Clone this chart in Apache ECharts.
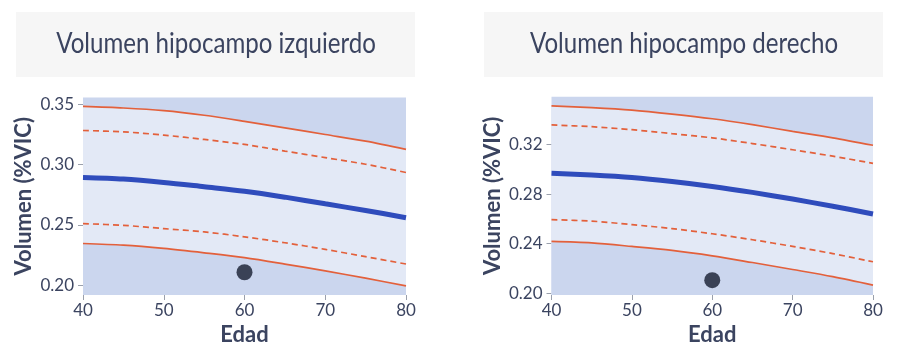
<!DOCTYPE html>
<html>
<head>
<meta charset="utf-8">
<script src="https://cdn.jsdelivr.net/npm/echarts@6/dist/echarts.min.js"></script>
<style>
html,body{margin:0;padding:0;background:#fff;}
#c{width:902px;height:351px;}
</style>
</head>
<body>
<div id="c"></div>
<script>
// Data
const edad = [40, 45, 50, 55, 60, 65, 70, 75, 80];
const xTicks = [40, 50, 60, 70, 80];

// Left: volumen hipocampo izquierdo
const izqUpperSolid  = [0.3480, 0.3467, 0.3445, 0.3407, 0.3357, 0.3303, 0.3248, 0.3193, 0.3125];
const izqUpperDashed = [0.3281, 0.3270, 0.3243, 0.3207, 0.3166, 0.3111, 0.3057, 0.3002, 0.2934];
const izqMean        = [0.2893, 0.2880, 0.2852, 0.2816, 0.2779, 0.2730, 0.2675, 0.2620, 0.2560];
const izqLowerDashed = [0.2511, 0.2497, 0.2470, 0.2443, 0.2402, 0.2353, 0.2298, 0.2238, 0.2177];
const izqLowerSolid  = [0.2347, 0.2333, 0.2306, 0.2270, 0.2230, 0.2177, 0.2120, 0.2060, 0.1997];
const izqPoint = [60, 0.2109];
const izqYTicks = [0.20, 0.25, 0.30, 0.35];
const izqYRange = [0.1921, 0.3554];

// Right: volumen hipocampo derecho
const derUpperSolid  = [0.3512, 0.3498, 0.3478, 0.3446, 0.3408, 0.3360, 0.3306, 0.3254, 0.3194];
const derUpperDashed = [0.3358, 0.3344, 0.3320, 0.3288, 0.3254, 0.3208, 0.3158, 0.3106, 0.3048];
const derMean        = [0.2968, 0.2954, 0.2934, 0.2902, 0.2862, 0.2814, 0.2760, 0.2702, 0.2640];
const derLowerDashed = [0.2594, 0.2582, 0.2554, 0.2522, 0.2480, 0.2432, 0.2378, 0.2320, 0.2254];
const derLowerSolid  = [0.2418, 0.2406, 0.2378, 0.2346, 0.2302, 0.2248, 0.2192, 0.2134, 0.2066];
const derPoint = [60, 0.2106];
const derYTicks = [0.20, 0.24, 0.28, 0.32];
const derYRange = [0.1986, 0.3586];

const titles = ['Volumen hipocampo izquierdo', 'Volumen hipocampo derecho'];

// Styles
const TXT = '#3b4460';
const RED = '#e3603b';
const BLUE = '#2f4cbc';
const DARK = '#cbd6ee';
const LIGHT = '#e3e9f6';
const PT = '#3a4256';
const FONT = 'Lato';

const zip = (ys) => edad.map((x, i) => [x, ys[i]]);

function panelSeries(idx, us, ud, m, ld, ls, pt) {
  const base = { type: 'line', xAxisIndex: idx, yAxisIndex: idx, showSymbol: false, smooth: 0.3, silent: true };
  return [
    Object.assign({}, base, { data: zip(us), z: 3, lineStyle: { color: RED, width: 1.7 }, areaStyle: { color: LIGHT, opacity: 1, origin: 'start' } }),
    Object.assign({}, base, { data: zip(ls), z: 4, lineStyle: { color: RED, width: 1.7 }, areaStyle: { color: DARK, opacity: 1, origin: 'start' } }),
    Object.assign({}, base, { data: zip(ud), z: 5, lineStyle: { color: RED, width: 1.7, type: [6, 4] } }),
    Object.assign({}, base, { data: zip(ld), z: 5, lineStyle: { color: RED, width: 1.7, type: [6, 4] } }),
    Object.assign({}, base, { data: zip(m), z: 6, lineStyle: { color: BLUE, width: 5 } }),
    { type: 'scatter', xAxisIndex: idx, yAxisIndex: idx, data: [pt], symbolSize: 16, itemStyle: { color: PT, opacity: 1 }, z: 7, silent: true }
  ];
}

function xAxis(idx) {
  return {
    type: 'value', gridIndex: idx, min: 40, max: 80, interval: 10,
    name: 'Edad', nameLocation: 'middle', nameGap: 29,
    nameTextStyle: { color: TXT, fontFamily: FONT, fontWeight: 'bold', fontSize: 22 },
    axisLine: { show: false },
    axisTick: { show: true, length: 5, lineStyle: { color: '#9aa0ac' } },
    axisLabel: { color: TXT, fontFamily: FONT, fontSize: 17, margin: 7 },
    splitLine: { show: false }
  };
}

function yAxis(idx, range, ticks) {
  return {
    type: 'value', gridIndex: idx, min: range[0], max: range[1],
    name: 'Volumen (%VIC)', nameLocation: 'middle', nameGap: 48, nameRotate: 90,
    nameTextStyle: { color: TXT, fontFamily: FONT, fontWeight: 'bold', fontSize: 22 },
    axisLine: { show: false },
    axisTick: { show: true, length: 5, lineStyle: { color: '#9aa0ac' }, customValues: ticks },
    axisLabel: { color: TXT, fontFamily: FONT, fontSize: 17, margin: 9, customValues: ticks, formatter: (v) => v.toFixed(2) },
    splitLine: { show: false }
  };
}

const chart = echarts.init(document.getElementById('c'), null, { renderer: 'canvas' });
chart.setOption({
  backgroundColor: '#ffffff',
  animation: false,
  graphic: [
    { type: 'rect', shape: { x: 16, y: 12, width: 399, height: 65 }, style: { fill: '#f6f6f6' }, z: 0 },
    { type: 'rect', shape: { x: 484, y: 12, width: 399, height: 65 }, style: { fill: '#f6f6f6' }, z: 0 },
    { type: 'text', x: 216, y: 44, scaleX: 0.86, style: { text: titles[0], fill: TXT, font: '28px Lato', align: 'center', verticalAlign: 'middle' }, z: 1 },
    { type: 'text', x: 684, y: 44, scaleX: 0.86, style: { text: titles[1], fill: TXT, font: '28px Lato', align: 'center', verticalAlign: 'middle' }, z: 1 }
  ],
  grid: [
    { left: 83, top: 97.5, width: 323, height: 200, show: true, backgroundColor: DARK, borderWidth: 0 },
    { left: 551.5, top: 96.7, width: 321.5, height: 200, show: true, backgroundColor: DARK, borderWidth: 0 }
  ],
  xAxis: [xAxis(0), xAxis(1)],
  yAxis: [yAxis(0, izqYRange, izqYTicks), yAxis(1, derYRange, derYTicks)],
  series: [].concat(
    panelSeries(0, izqUpperSolid, izqUpperDashed, izqMean, izqLowerDashed, izqLowerSolid, izqPoint),
    panelSeries(1, derUpperSolid, derUpperDashed, derMean, derLowerDashed, derLowerSolid, derPoint)
  )
});
</script>
</body>
</html>
